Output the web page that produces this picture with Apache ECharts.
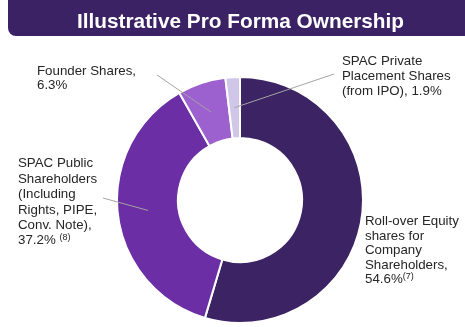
<!DOCTYPE html>
<html>
<head>
<meta charset="utf-8">
<script src="https://cdn.jsdelivr.net/npm/echarts@6/dist/echarts.min.js"></script>
<style>
  html, body { margin: 0; padding: 0; background: #ffffff; }
  #chart { width: 465px; height: 327px; }
</style>
</head>
<body>
<div id="chart"></div>
<script>
// Ownership split after the combination, in percent
const categories = [
  'Roll-over Equity shares for Company Shareholders',
  'SPAC Public Shareholders (Including Rights, PIPE, Conv. Note)',
  'Founder Shares',
  'SPAC Private Placement Shares (from IPO)'
];
const shares = [54.6, 37.2, 6.3, 1.9];
// How each name is broken over lines in its label
const wrappedNames = [
  'Roll-over Equity\nshares for\nCompany\nShareholders',
  'SPAC Public\nShareholders\n(Including\nRights, PIPE,\nConv. Note)',
  'Founder Shares',
  'SPAC Private\nPlacement Shares\n(from IPO)'
];
const valueBreaks = ['\n', '\n', '\n', ' '];
const footnotes = ['(7)', '(8)', '', ''];
const footnoteGaps = ['', ' ', '', ''];

const sliceColors = ['#3b2364', '#6b2ea4', '#9d60cf', '#d0c6e8'];
const FONT = '"Liberation Sans", Arial, Helvetica, sans-serif';

// Where each label sits and where its leader line ends
const labelSpots = [
  { x: 365, y: 214, lh: 14.6, end: null },
  { x: 18, y: 156, lh: 15.4, end: [103, 198] },
  { x: 37, y: 64, lh: 14.2, end: [157, 75] },
  { x: 342, y: 54, lh: 15, end: [334, 74] }
];

const CENTER = [240, 200];

const chart = echarts.init(document.getElementById('chart'), null, { renderer: 'canvas' });

const ringData = categories.map((name, i) => ({
  name: name,
  value: shares[i],
  itemStyle: { color: sliceColors[i] }
}));

const labelData = categories.map((name, i) => ({
  name: name,
  value: shares[i],
  labelLine: { show: labelSpots[i].end !== null },
  label: { lineHeight: labelSpots[i].lh }
}));

chart.setOption({
  animation: false,
  title: {
    text: 'Illustrative Pro Forma Ownership',
    left: 72,
    top: 7,
    textStyle: { color: '#ffffff', fontSize: 20.8, fontWeight: 'bold', fontFamily: FONT }
  },
  graphic: [
    {
      type: 'rect',
      z: -1,
      shape: { x: 8, y: -12, width: 470, height: 48, r: 8 },
      style: { fill: '#3a2264' }
    }
  ],
  series: [
    {
      type: 'pie',
      center: CENTER,
      radius: [62, 123],
      startAngle: 90,
      clockwise: true,
      silent: true,
      label: { show: false },
      labelLine: { show: false },
      itemStyle: { borderColor: '#ffffff', borderWidth: 2 },
      data: ringData
    },
    {
      // Invisible ring whose outer edge runs through the middle of the donut,
      // so leader lines start in the middle of each slice
      type: 'pie',
      center: CENTER,
      radius: [0, 92.5],
      startAngle: 90,
      clockwise: true,
      silent: true,
      z: 3,
      itemStyle: { color: 'rgba(0,0,0,0)' },
      label: {
        show: true,
        position: 'outside',
        alignTo: 'none',
        overflow: 'none',
        width: 200,
        color: '#262626',
        fontSize: 13.3,
        fontFamily: FONT,
        formatter: (p) => {
          const i = p.dataIndex;
          let s = wrappedNames[i] + ',' + valueBreaks[i] + shares[i].toFixed(1) + '%';
          if (footnotes[i]) s += footnoteGaps[i] + '{sup|' + footnotes[i] + '}';
          return s;
        },
        rich: {
          sup: { fontSize: 9, fontFamily: FONT, color: '#262626', verticalAlign: 'top', padding: [0, 0, 6, 0] }
        }
      },
      labelLine: { show: true, lineStyle: { color: '#a3a3a3', width: 1 } },
      labelLayout: (params) => {
        const spot = labelSpots[params.dataIndex];
        const out = { x: spot.x, y: spot.y, align: 'left', verticalAlign: 'top' };
        if (spot.end && params.labelLinePoints) {
          out.labelLinePoints = [params.labelLinePoints[0], spot.end];
        }
        return out;
      },
      data: labelData
    }
  ]
});
</script>
</body>
</html>
